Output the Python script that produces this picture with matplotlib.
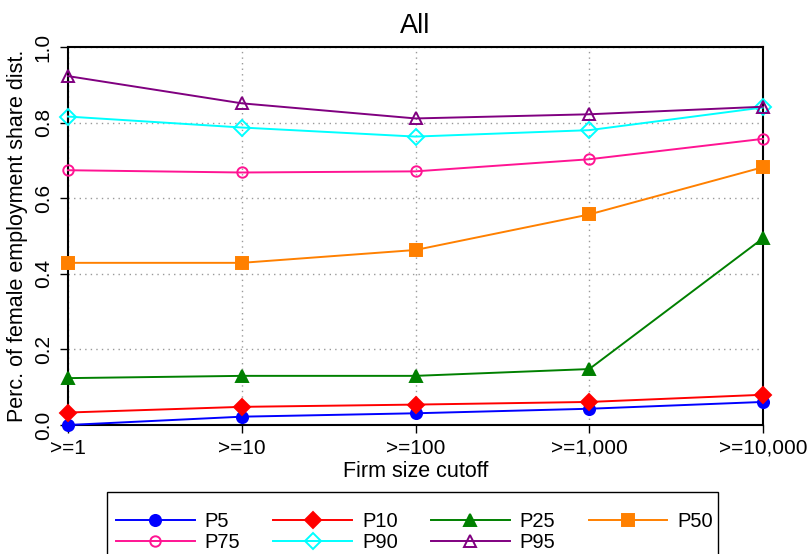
import matplotlib
matplotlib.use("Agg")
import matplotlib.pyplot as plt
from matplotlib.patches import Rectangle

# firm size cutoffs and percentile series
cutoffs = [">=1", ">=10", ">=100", ">=1,000", ">=10,000"]
p5 = [0.000, 0.022, 0.031, 0.043, 0.061]
p10 = [0.033, 0.048, 0.054, 0.061, 0.080]
p25 = [0.124, 0.130, 0.130, 0.148, 0.494]
p50 = [0.429, 0.429, 0.463, 0.557, 0.682]
p75 = [0.674, 0.668, 0.671, 0.703, 0.757]
p90 = [0.816, 0.787, 0.763, 0.780, 0.840]
p95 = [0.923, 0.851, 0.811, 0.822, 0.842]
yticks = [0.0, 0.2, 0.4, 0.6, 0.8, 1.0]

plt.rcParams['font.family'] = ['Liberation Sans', 'DejaVu Sans']

W, H = 809, 554
fig = plt.figure(figsize=(W / 100, H / 100), dpi=100)
ax = fig.add_axes([68 / W, 1 - 425 / H, (763 - 68) / W, (425 - 47) / H])

x = list(range(1, len(cutoffs) + 1))

series = [
    ("P5", p5, "#0000FF", "o", True, 8),
    ("P10", p10, "#FF0000", "D", True, 8.5),
    ("P25", p25, "#008000", "^", True, 9),
    ("P50", p50, "#FF8000", "s", True, 8),
    ("P75", p75, "#FF1493", "o", False, 7.5),
    ("P90", p90, "#00FFFF", "D", False, 8.5),
    ("P95", p95, "#800080", "^", False, 9),
]

lines = {}
for name, vals, col, mk, filled, ms in series:
    ln, = ax.plot(x, vals, color=col, lw=1.4, marker=mk, ms=ms,
                  mfc=col if filled else "none", mec=col, mew=1.4,
                  label=name, clip_on=False, zorder=3)
    lines[name] = ln

ax.set_xlim(1, 5)
ax.set_ylim(0, 1)
ax.set_xticks(x)
ax.set_xticklabels(cutoffs, fontsize=15)
ax.set_yticks(yticks)
ax.set_yticklabels(["%.1f" % v for v in yticks], fontsize=15,
                   rotation=90, va="center")
ax.tick_params(axis="both", direction="out", length=6, width=1, color="black")
ax.tick_params(axis="x", pad=4)
ax.tick_params(axis="y", pad=5)
ax.grid(True, color="#999999", linestyle=(0, (1, 3)), linewidth=1)
for s in ax.spines.values():
    s.set_linewidth(1.5)
    s.set_color("black")

ax.set_title("All", fontsize=19.5, pad=10)
ax.set_xlabel("Firm size cutoff", fontsize=15.5, labelpad=2)
ax.set_ylabel("Perc. of female employment share dist.", fontsize=15.5, labelpad=4)

# row-major order for a 4-column legend
order = ["P5", "P75", "P10", "P90", "P25", "P95", "P50"]
leg = fig.legend([lines[n] for n in order], order,
                 loc="upper left", bbox_to_anchor=(116 / W, 1 - 512 / H),
                 ncol=4, fontsize=14.5, frameon=False,
                 handlelength=3.9, handletextpad=0.5, columnspacing=1.65,
                 labelspacing=0.1, borderpad=0, borderaxespad=0)

# legend box runs past the bottom edge of the figure
fig.add_artist(Rectangle((107 / W, -0.1), (718 - 107) / W, 0.1 + 1 - 492 / H,
                         transform=fig.transFigure, fill=False,
                         ec="black", lw=1.0))

fig.savefig("out.png", dpi=100)
